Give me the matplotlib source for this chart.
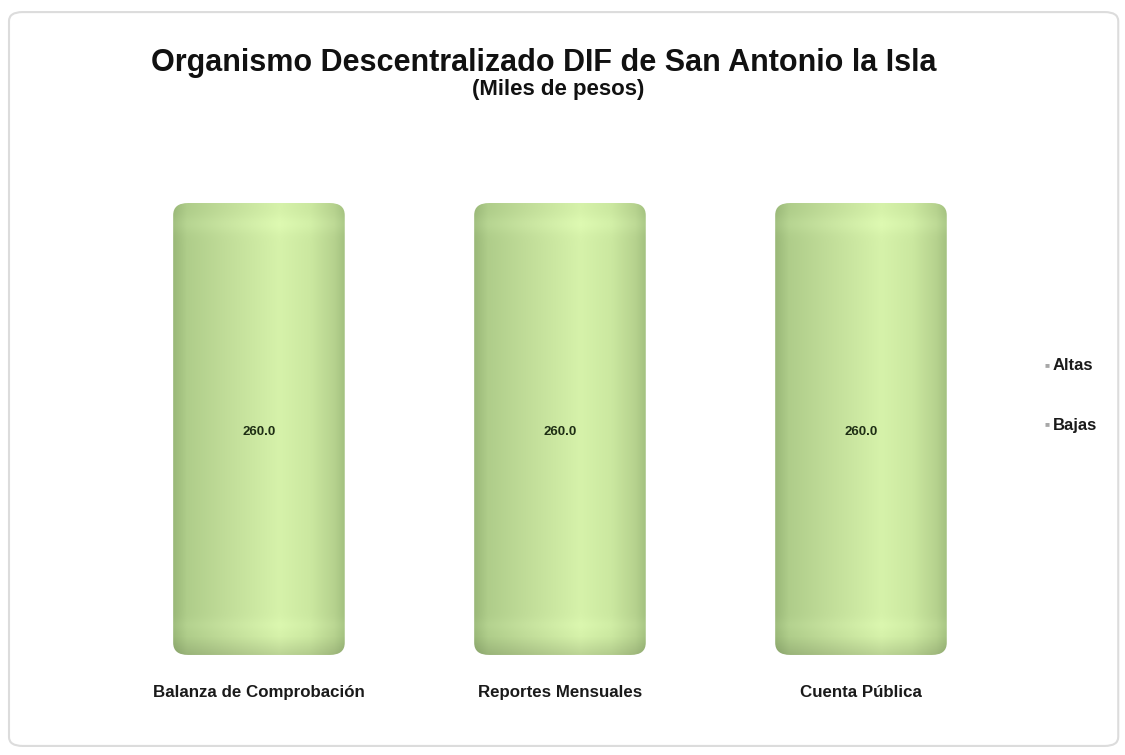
import numpy as np
import matplotlib
matplotlib.use("Agg")
import matplotlib.pyplot as plt
from matplotlib.patches import FancyBboxPatch
from matplotlib.colors import to_rgb

# datos
categorias = ["Balanza de Comprobación", "Reportes Mensuales", "Cuenta Pública"]
altas = [260.0, 260.0, 260.0]
bajas = [0.0, 0.0, 0.0]
series = ["Altas", "Bajas"]

plt.rcParams['font.family'] = ['Liberation Sans', 'DejaVu Sans']

fig = plt.figure(figsize=(11.25, 7.55), dpi=100)
ax = fig.add_axes([0.0964, 0.1325, 0.8027, 0.6907])

# marco redondeado de la figura
marco = FancyBboxPatch((0.008, 0.012), 0.986, 0.972, boxstyle="round,pad=0,rounding_size=0.012",
                       transform=fig.transFigure, facecolor="white", edgecolor="#dcdcdc", linewidth=1.5,
                       zorder=-10)
fig.patches.append(marco)

x = np.arange(len(categorias))
barras = ax.bar(x, altas, width=0.57, color="#c4e09c", label=series[0])
ax.bar(x, bajas, width=0.57, bottom=altas, color="#b0b0b0", label=series[1])


def gradiente():
    pos = [0.0, 0.08, 0.3, 0.62, 0.8, 0.94, 1.0]
    cols = ["#9ab878", "#afcd8a", "#c0dc98", "#d6f2aa", "#cbe8a0", "#b6d28e", "#a4c280"]
    xs = np.linspace(0, 1, 200)
    fila = np.array([np.interp(xs, pos, [to_rgb(c)[i] for c in cols]) for i in range(3)]).T
    ys = np.linspace(0, 1, 300)
    img = np.repeat(fila[np.newaxis, :, :], len(ys), axis=0)
    # sombra abajo y brillo arriba
    fac = np.ones(len(ys))
    m = ys < 0.04
    fac[m] = 0.88 + 0.12 * ys[m] / 0.04
    brillo = np.exp(-((ys - 0.955) / 0.02) ** 2) * 0.03 + np.exp(-((ys - 0.065) / 0.015) ** 2) * 0.02
    img = img * fac[:, None, None] + brillo[:, None, None]
    return np.clip(img, 0, 1)


img = gradiente()
for b in barras:
    x0, y0, w, h = b.get_x(), b.get_y(), b.get_width(), b.get_height()
    b.set_visible(False)
    clip = FancyBboxPatch((x0, y0), w, h, boxstyle="round,pad=0,rounding_size=0.05",
                          mutation_aspect=140, facecolor="none", edgecolor="none")
    ax.add_patch(clip)
    im = ax.imshow(img, extent=(x0, x0 + w, y0, y0 + h), origin="lower", aspect="auto", zorder=2)
    im.set_clip_path(clip)
    ax.text(x0 + w / 2, y0 + h / 2 - 2, f"{h:.1f}", ha="center", va="center", fontsize=9.5,
            fontweight="bold", color="#1e2e14", zorder=3)

ax.set_xlim(-0.5, 2.5)
ax.set_ylim(0, 300)
ax.axis("off")

for xi, c in zip(x, categorias):
    ax.text(xi, -17, c, ha="center", va="top", fontsize=12.2, fontweight="bold", color="#1a1a1a")

fig.text(0.483, 0.917, "Organismo Descentralizado DIF de San Antonio la Isla", ha="center", va="center",
         fontsize=22, fontweight="bold", color="#111111")
fig.text(0.496, 0.881, "(Miles de pesos)", ha="center", va="center", fontsize=16, fontweight="bold",
         color="#111111")

# leyenda
for i, s in enumerate(series):
    yy = 0.516 - i * 0.079
    fig.text(0.931, yy, "■", fontsize=6, color="#a8a8a8", ha="center", va="center")
    fig.text(0.936, yy, s, fontsize=12, fontweight="bold", color="#1a1a1a", ha="left", va="center")

fig.savefig("out.png", dpi=100)
